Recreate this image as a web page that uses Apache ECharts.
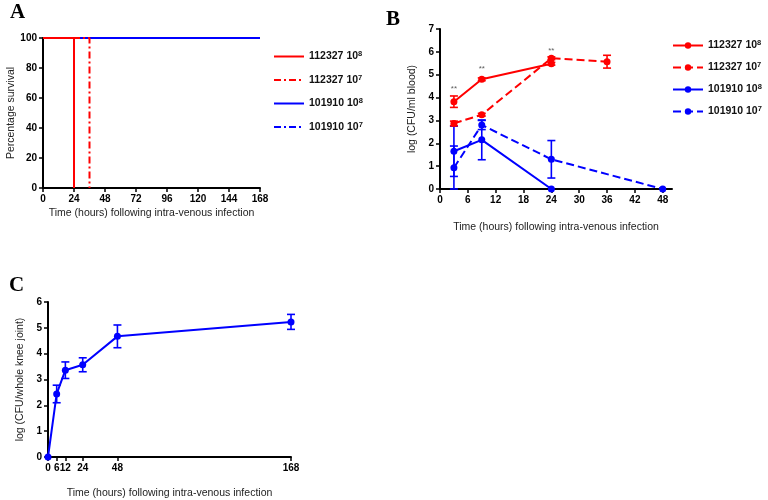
<!DOCTYPE html>
<html><head><meta charset="utf-8">
<script src="https://cdn.jsdelivr.net/npm/echarts@6/dist/echarts.min.js"></script>
<style>html,body{margin:0;padding:0;background:#fff}#c{width:768px;height:500px}</style>
</head><body><div id="c"></div>
<script>
// ---------- Panel A: survival ----------
const aTicksX = [0, 24, 48, 72, 96, 120, 144, 168];
const a_112327_e8 = [[0, 100], [24, 100], [24, 0]];
const a_112327_e7 = [[0, 100], [36, 100], [36, 0]];
const a_101910_e8 = [[0, 100], [168, 100]];
const a_101910_e7 = [[0, 100], [168, 100]];

// ---------- Panel B: blood CFU ----------
const bTicksX = [0, 6, 12, 18, 24, 30, 36, 42, 48];
const b_112327_e8_x = [3, 9, 24];
const b_112327_e8_y = [3.82, 4.80, 5.48];
const b_112327_e8_err = [0.25, 0.06, 0.06];
const b_112327_e7_x = [3, 9, 24, 36];
const b_112327_e7_y = [2.87, 3.25, 5.72, 5.57];
const b_112327_e7_err = [0.10, 0.06, 0.06, 0.28];
const b_101910_e8_x = [3, 9, 24];
const b_101910_e8_y = [1.65, 2.15, 0];
const b_101910_e8_err = [1.10, 0.87, 0];
const b_101910_e7_x = [3, 9, 24, 48];
const b_101910_e7_y = [0.93, 2.80, 1.30, 0];
const b_101910_e7_err = [0.95, 0.20, 0.82, 0];
const b_star_x = [3, 9, 24];
const b_star_y = [4.38, 5.25, 6.05];

// ---------- Panel C: knee joint CFU ----------
const cTicksX = [0, 6, 12, 24, 48, 168];
const c_x = [0, 6, 12, 24, 48, 168];
const c_y = [0, 2.44, 3.36, 3.57, 4.67, 5.23];
const c_err = [0, 0.34, 0.32, 0.27, 0.44, 0.29];

const FF = '"Liberation Sans", Arial, sans-serif';
const SERIF = '"Liberation Serif", "Times New Roman", serif';
const RED = '#ff0000', BLUE = '#0000ff';
const DASHDOT = [7, 3, 2, 3];
const DASH = [8, 4];

function pairs(xs, ys) { return xs.map((x, i) => [x, ys[i]]); }

function axis(extra) {
  return Object.assign({
    type: 'value',
    nameLocation: 'middle',
    nameTextStyle: { color: '#222', fontSize: 10.5, fontFamily: FF },
    axisLine: { show: true, lineStyle: { color: '#000', width: 2 } },
    axisTick: { show: true, length: 4, lineStyle: { color: '#000', width: 1.5 } },
    axisLabel: { color: '#000', fontWeight: 'bold', fontSize: 10, fontFamily: FF, margin: 6 },
    splitLine: { show: false }
  }, extra);
}
function xLabels(vals) { return { color: '#000', fontWeight: 'bold', fontSize: 10, fontFamily: FF, margin: 6, customValues: vals }; }
function xTicks(vals) { return { show: true, length: 4, lineStyle: { color: '#000', width: 1.5 }, customValues: vals }; }

function errSeries(xs, ys, es, color, xi, yi) {
  const data = [];
  xs.forEach((x, i) => { if (es[i] > 0) data.push([x, Math.max(0, ys[i] - es[i]), ys[i] + es[i]]); });
  return {
    type: 'custom', xAxisIndex: xi, yAxisIndex: yi, silent: true, z: 3,
    data: data,
    encode: { x: 0, y: [1, 2] },
    renderItem: function (params, api) {
      const lo = api.coord([api.value(0), api.value(1)]);
      const hi = api.coord([api.value(0), api.value(2)]);
      const w = 4;
      const st = { stroke: color, lineWidth: 1.6 };
      return { type: 'group', children: [
        { type: 'line', shape: { x1: lo[0], y1: lo[1], x2: hi[0], y2: hi[1] }, style: st },
        { type: 'line', shape: { x1: lo[0] - w, y1: lo[1], x2: lo[0] + w, y2: lo[1] }, style: st },
        { type: 'line', shape: { x1: hi[0] - w, y1: hi[1], x2: hi[0] + w, y2: hi[1] }, style: st }
      ] };
    }
  };
}

function lineB(name, xs, ys, color, dash) {
  return {
    name: name, type: 'line', xAxisIndex: 1, yAxisIndex: 1, z: 4,
    data: pairs(xs, ys), symbol: 'circle', symbolSize: 7,
    itemStyle: { color: color },
    lineStyle: { color: color, width: 2, type: dash },
    clip: false
  };
}

const legendRich = {
  t: { fontSize: 10.5, fontWeight: 'bold', color: '#111', fontFamily: FF, lineHeight: 13 },
  s: { fontSize: 7.5, fontWeight: 'bold', color: '#111', fontFamily: FF, verticalAlign: 'top', lineHeight: 9 }
};
function legendFmt(n) { const p = n.split('|'); return '{t|' + p[1] + ' 10}{s|' + p[2] + '}'; }

const chart = echarts.init(document.getElementById('c'), null, { renderer: 'canvas' });
chart.setOption({
  backgroundColor: '#fff',
  animation: false,
  title: [
    { text: 'A', left: 10, top: 2, padding: 0, textStyle: { fontFamily: SERIF, fontWeight: 'bold', fontSize: 21, color: '#000' } },
    { text: 'B', left: 386, top: 9, padding: 0, textStyle: { fontFamily: SERIF, fontWeight: 'bold', fontSize: 21, color: '#000' } },
    { text: 'C', left: 9, top: 275, padding: 0, textStyle: { fontFamily: SERIF, fontWeight: 'bold', fontSize: 21, color: '#000' } }
  ],
  grid: [
    { left: 43, top: 38, width: 217, height: 150 },
    { left: 440, top: 29, width: 232, height: 160 },
    { left: 48, top: 302, width: 243, height: 160 }
  ],
  xAxis: [
    axis({ gridIndex: 0, min: 0, max: 168, name: 'Time (hours) following intra-venous infection', nameGap: 20,
      axisLabel: xLabels(aTicksX), axisTick: xTicks(aTicksX) }),
    axis({ gridIndex: 1, min: 0, max: 50, name: 'Time (hours) following intra-venous infection', nameGap: 33,
      axisLabel: xLabels(bTicksX), axisTick: xTicks(bTicksX) }),
    axis({ gridIndex: 2, min: 0, max: 168, name: 'Time (hours) following intra-venous infection', nameGap: 31,
      axisLabel: xLabels(cTicksX), axisTick: xTicks(cTicksX) })
  ],
  yAxis: [
    axis({ gridIndex: 0, min: 0, max: 100, interval: 20, name: 'Percentage survival', nameGap: 21 }),
    axis({ gridIndex: 1, min: 0, max: 7, interval: 1, name: 'log (CFU/ml blood)', nameGap: 22 }),
    axis({ gridIndex: 2, min: 0, max: 6, interval: 1, name: 'log (CFU/whole knee joint)', nameGap: 22 })
  ],
  legend: [
    { orient: 'vertical', left: 273, top: 50, padding: 0, itemWidth: 30, itemHeight: 8, itemGap: 11.5,
      data: ['A|112327|8', 'A|112327|7', 'A|101910|8', 'A|101910|7'],
      itemStyle: { color: 'rgba(0,0,0,0)', borderColor: 'rgba(0,0,0,0)', borderWidth: 0 },
      formatter: legendFmt, textStyle: { rich: legendRich }, selectedMode: false },
    { orient: 'vertical', left: 672, top: 39, padding: 0, itemWidth: 30, itemHeight: 8, itemGap: 10,
      data: ['B|112327|8', 'B|112327|7', 'B|101910|8', 'B|101910|7'],
      formatter: legendFmt, textStyle: { rich: legendRich }, selectedMode: false }
  ],
  series: [
    // Panel A (blue drawn first, red on top)
    { name: 'A|101910|8', type: 'line', xAxisIndex: 0, yAxisIndex: 0, data: a_101910_e8, symbol: 'none',
      lineStyle: { color: BLUE, width: 2 }, itemStyle: { color: BLUE }, clip: false },
    { name: 'A|101910|7', type: 'line', xAxisIndex: 0, yAxisIndex: 0, data: a_101910_e7, symbol: 'none',
      lineStyle: { color: BLUE, width: 2, type: DASHDOT }, itemStyle: { color: BLUE }, clip: false },
    { name: 'A|112327|7', type: 'line', xAxisIndex: 0, yAxisIndex: 0, data: a_112327_e7, symbol: 'none',
      lineStyle: { color: RED, width: 2, type: DASHDOT }, itemStyle: { color: RED }, clip: false },
    { name: 'A|112327|8', type: 'line', xAxisIndex: 0, yAxisIndex: 0, data: a_112327_e8, symbol: 'none',
      lineStyle: { color: RED, width: 2 }, itemStyle: { color: RED }, clip: false },

    // Panel B
    lineB('B|101910|7', b_101910_e7_x, b_101910_e7_y, BLUE, DASH),
    lineB('B|101910|8', b_101910_e8_x, b_101910_e8_y, BLUE, 'solid'),
    lineB('B|112327|7', b_112327_e7_x, b_112327_e7_y, RED, DASH),
    lineB('B|112327|8', b_112327_e8_x, b_112327_e8_y, RED, 'solid'),
    errSeries(b_101910_e7_x, b_101910_e7_y, b_101910_e7_err, BLUE, 1, 1),
    errSeries(b_101910_e8_x, b_101910_e8_y, b_101910_e8_err, BLUE, 1, 1),
    errSeries(b_112327_e7_x, b_112327_e7_y, b_112327_e7_err, RED, 1, 1),
    errSeries(b_112327_e8_x, b_112327_e8_y, b_112327_e8_err, RED, 1, 1),
    { type: 'scatter', xAxisIndex: 1, yAxisIndex: 1, silent: true, symbolSize: 1,
      itemStyle: { color: 'rgba(0,0,0,0)' }, data: pairs(b_star_x, b_star_y),
      label: { show: true, position: 'inside', formatter: '**', fontSize: 8, color: '#333', fontFamily: FF } },

    // Panel C
    { type: 'line', xAxisIndex: 2, yAxisIndex: 2, data: pairs(c_x, c_y), symbol: 'circle', symbolSize: 7,
      itemStyle: { color: BLUE }, lineStyle: { color: BLUE, width: 2 }, clip: false, z: 4 },
    errSeries(c_x, c_y, c_err, BLUE, 2, 2)
  ]
});
</script>
</body></html>
